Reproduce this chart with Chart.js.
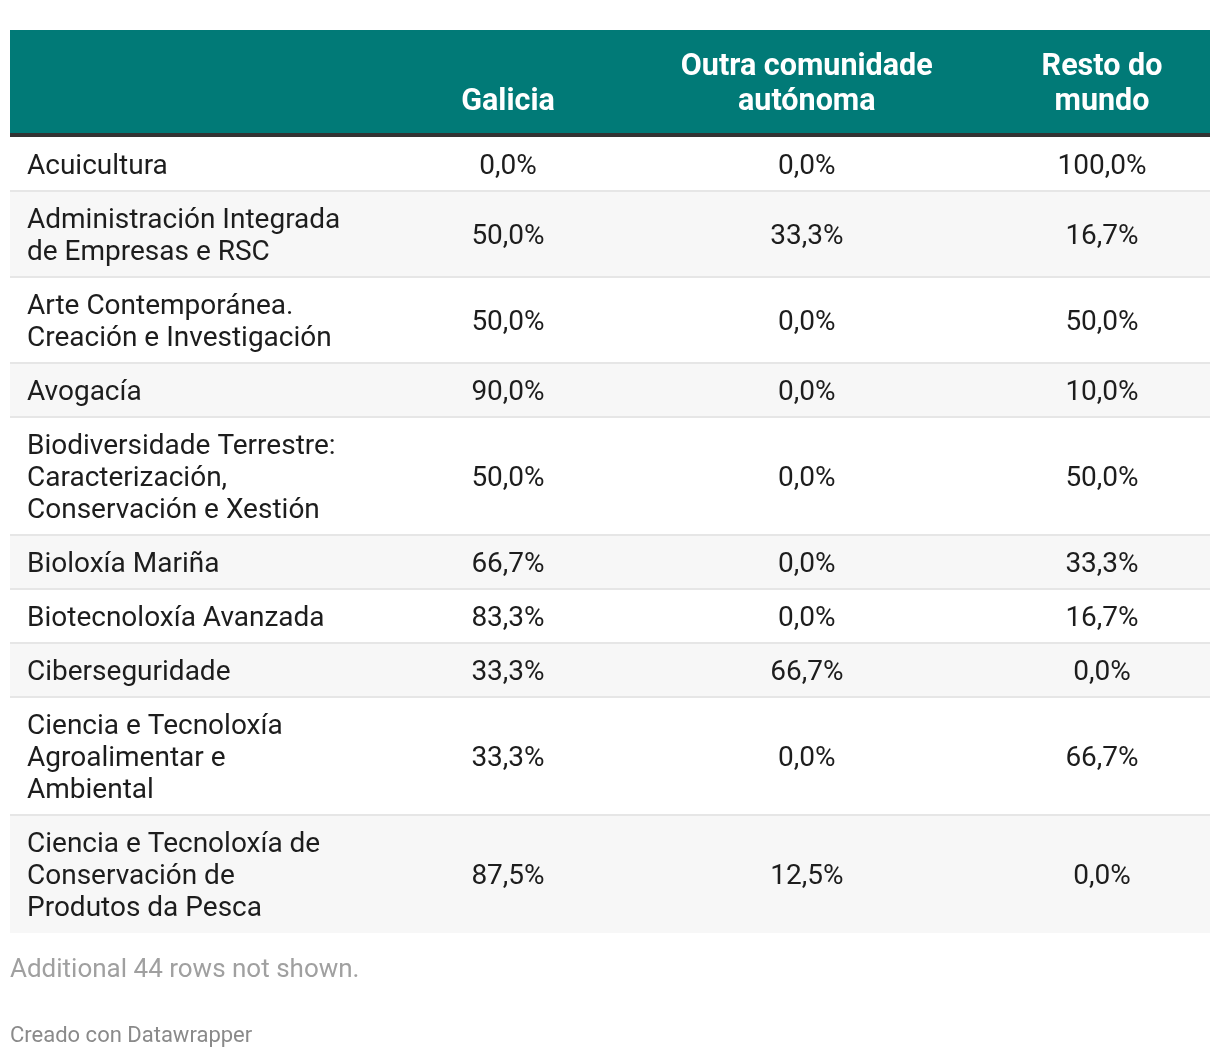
<!DOCTYPE html>
<html>
<head>
<meta charset="utf-8">
<script src="https://cdn.jsdelivr.net/npm/chart.js@4"></script>
<style>
  html, body { margin: 0; padding: 0; background: #fff; }
  #wrap { width: 1220px; height: 1058px; position: relative; }
</style>
</head>
<body>
<div id="wrap"><canvas id="tbl"></canvas></div>
<script>
// table content
var rowLabels = [
    ["Acuicultura"],
    ["Administración Integrada", "de Empresas e RSC"],
    ["Arte Contemporánea.", "Creación e Investigación"],
    ["Avogacía"],
    ["Biodiversidade Terrestre:", "Caracterización,", "Conservación e Xestión"],
    ["Bioloxía Mariña"],
    ["Biotecnoloxía Avanzada"],
    ["Ciberseguridade"],
    ["Ciencia e Tecnoloxía", "Agroalimentar e", "Ambiental"],
    ["Ciencia e Tecnoloxía de", "Conservación de", "Produtos da Pesca"]
];
var columnLabels = [["Galicia"], ["Outra comunidade", "autónoma"], ["Resto do", "mundo"]];
var galicia = [0.0, 50.0, 50.0, 90.0, 50.0, 66.7, 83.3, 33.3, 33.3, 87.5];
var outraComunidade = [0.0, 33.3, 0.0, 0.0, 0.0, 0.0, 0.0, 66.7, 0.0, 12.5];
var restoMundo = [100.0, 16.7, 50.0, 10.0, 50.0, 33.3, 16.7, 0.0, 66.7, 0.0];
var hiddenRows = 44;
var credit = "Creado con Datawrapper";

// layout / look
var LINE_H = 32, ROW_PAD = 22;
var COL_CENTER = [0.415, 0.664, 0.91];
var TEAL = "#017a77";
var FONT = "Roboto";
var BODY_FONT = "28px " + FONT;

// row bands in body units (top -> bottom)
var rowStart = [], rowEnd = [], acc = 0;
rowLabels.forEach(function (l) {
    rowStart.push(acc);
    acc += ROW_PAD + LINE_H * l.length;
    rowEnd.push(acc);
});
var bodyTotal = acc;

function fmt(v) {
    return v.toFixed(1).replace(".", ",") + "%";
}

function colDataset(values, c) {
    return {
        label: columnLabels[c].join(" "),
        data: values.map(function (v, i) {
            return { x: COL_CENTER[c], y: (rowStart[i] + rowEnd[i]) / 2, v: v };
        }),
        pointRadius: 0,
        pointHoverRadius: 0
    };
}

var tablePlugin = {
    id: "tablePlugin",
    beforeDatasetsDraw: function (chart) {
        var ctx = chart.ctx, x = chart.scales.x, y = chart.scales.y;
        var left = x.getPixelForValue(0), right = x.getPixelForValue(1);
        ctx.save();
        // row backgrounds
        rowLabels.forEach(function (l, i) {
            var t = y.getPixelForValue(rowStart[i]), b = y.getPixelForValue(rowEnd[i]);
            if (i % 2 == 1) {
                ctx.fillStyle = "#f7f7f7";
                ctx.fillRect(left, t, right - left, b - t);
            }
            if (i > 0) {
                ctx.fillStyle = "#e6e6e6";
                ctx.fillRect(left, t - 1, right - left, 2);
            }
        });
        // header
        var top = y.getPixelForValue(0);
        ctx.fillStyle = TEAL;
        ctx.fillRect(left, 30, right - left, top - 30);
        ctx.fillStyle = "#333";
        ctx.fillRect(left, top - 4, right - left, 4);
        ctx.fillStyle = "#fff";
        ctx.font = "bold 30.5px " + FONT;
        ctx.textAlign = "center";
        ctx.textBaseline = "middle";
        columnLabels.forEach(function (lines, c) {
            var cx = x.getPixelForValue(COL_CENTER[c]);
            lines.forEach(function (s, k) {
                ctx.fillText(s, cx, 102 - (lines.length - 1 - k) * 35);
            });
        });
        // row labels
        ctx.fillStyle = "#1d1d1d";
        ctx.font = BODY_FONT;
        ctx.textAlign = "left";
        rowLabels.forEach(function (lines, i) {
            var cy = y.getPixelForValue((rowStart[i] + rowEnd[i]) / 2) + 3;
            lines.forEach(function (s, k) {
                ctx.fillText(s, left + 17, cy + (k - (lines.length - 1) / 2) * LINE_H);
            });
        });
        // footer
        var bottom = y.getPixelForValue(bodyTotal);
        ctx.fillStyle = "#a0a0a0";
        ctx.font = "26px " + FONT;
        ctx.fillText("Additional " + hiddenRows + " rows not shown.", left, bottom + 37);
        ctx.fillStyle = "#8a8a8a";
        ctx.font = "22px " + FONT;
        ctx.fillText(credit, left, bottom + 103);
        ctx.restore();
    },
    afterDatasetsDraw: function (chart) {
        var ctx = chart.ctx;
        ctx.save();
        ctx.fillStyle = "#1d1d1d";
        ctx.font = BODY_FONT;
        ctx.textAlign = "center";
        ctx.textBaseline = "middle";
        chart.data.datasets.forEach(function (ds, d) {
            chart.getDatasetMeta(d).data.forEach(function (pt, i) {
                ctx.fillText(fmt(ds.data[i].v), pt.x, pt.y + 3);
            });
        });
        ctx.restore();
    }
};

function drawTable() {
    new Chart(document.getElementById("tbl"), {
        type: "scatter",
        data: {
            datasets: [
                colDataset(galicia, 0),
                colDataset(outraComunidade, 1),
                colDataset(restoMundo, 2)
            ]
        },
        options: {
            responsive: true,
            maintainAspectRatio: false,
            animation: false,
            events: [],
            layout: { padding: { top: 137, bottom: 1058 - 137 - bodyTotal, left: 10, right: 10 } },
            scales: {
                x: { type: "linear", min: 0, max: 1, display: false },
                y: { type: "linear", min: 0, max: bodyTotal, reverse: true, display: false }
            },
            plugins: {
                legend: { display: false },
                tooltip: { enabled: false }
            }
        },
        plugins: [tablePlugin]
    });
}

if (document.fonts && document.fonts.load) {
    Promise.all([
        document.fonts.load("28px Roboto"),
        document.fonts.load("bold 30px Roboto")
    ]).then(drawTable, drawTable);
} else {
    drawTable();
}
</script>
</body>
</html>
